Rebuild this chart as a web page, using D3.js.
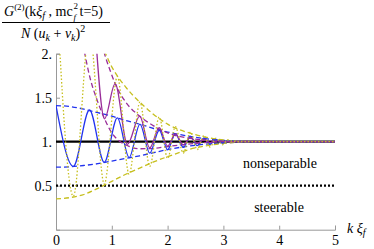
<!DOCTYPE html>
<html>
<head>
<meta charset="utf-8">
<script src="https://cdn.jsdelivr.net/npm/d3@7"></script>
<style>
  body { margin: 0; background: #fff; }
  svg text { font-family: "Liberation Serif", "Times New Roman", serif !important; }
</style>
</head>
<body>
<svg id="chart" width="374" height="249"></svg>
<script>
// tick values
var xTicks = [0, 1, 2, 3, 4, 5];
var yTicks = [0.5, 1, 1.5, 2];
var yTickLabels = ["0.5", "1.", "1.5", "2."];

// reference levels
var nonsepLevel = 1;
var steerLevel = 0.5;

// blue (solid) extrema and envelopes
var blueK = [0, 0.31, 0.60, 0.865, 1.10, 1.31, 1.505, 1.68, 1.85, 2.0, 2.14, 2.28, 2.41, 2.53, 2.65, 2.76, 2.87, 2.98, 3.08, 3.2, 5];
var blueV = [1.41, 0.72, 1.36, 0.765, 1.27, 0.82, 1.20, 0.87, 1.13, 0.91, 1.09, 0.935, 1.06, 0.955, 1.04, 0.97, 1.025, 0.985, 1.01, 1.0, 1.0];
var envK = [0, 0.25, 0.5, 0.75, 1, 1.25, 1.5, 1.75, 2, 2.5, 3, 3.5, 5];
var blueUp = [1.41, 1.40, 1.37, 1.33, 1.29, 1.24, 1.20, 1.15, 1.11, 1.05, 1.015, 1.0, 1.0];
var blueLo = [0.71, 0.715, 0.73, 0.75, 0.78, 0.81, 0.84, 0.875, 0.91, 0.96, 0.985, 1.0, 1.0];

// yellow (dotted) extrema and envelopes
var yelK = [0, 0.31, 0.60, 0.865, 1.10, 1.31, 1.505, 1.68, 1.85, 2.0, 2.14, 2.28, 2.41, 2.53, 2.65, 2.76, 2.87, 2.98, 3.08, 3.2, 5];
var yelV = [2.83, 0.38, 2.25, 0.52, 1.74, 0.63, 1.45, 0.72, 1.28, 0.81, 1.17, 0.87, 1.11, 0.91, 1.07, 0.94, 1.04, 0.965, 1.02, 1.0, 1.0];
var yelUp = [2.83, 2.75, 2.49, 2.2, 1.85, 1.62, 1.45, 1.31, 1.2, 1.08, 1.02, 1.0, 1.0];
var yelLo = [0.35, 0.365, 0.40, 0.47, 0.55, 0.63, 0.70, 0.77, 0.83, 0.93, 0.98, 1.0, 1.0];

// purple (solid) extrema and envelopes
var purK = [0.70, 0.87, 1.06, 1.28, 1.50, 1.68, 1.85, 2.0, 2.14, 2.28, 2.41, 2.53, 2.65, 2.76, 2.9, 3.0, 5];
var purV = [2.3, 1.26, 1.66, 0.97, 1.29, 0.93, 1.16, 0.95, 1.09, 0.965, 1.05, 0.98, 1.025, 0.99, 1.01, 1.0, 1.0];
var purUpK = [0.80, 0.85, 0.97, 1.06, 1.25, 1.5, 1.75, 2, 2.5, 3, 5];
var purUp = [2.2, 2.05, 1.81, 1.66, 1.45, 1.29, 1.18, 1.1, 1.03, 1.005, 1.0];
var purLoK = [0.45, 0.5, 0.6, 0.75, 0.87, 1.0, 1.15, 1.3, 1.5, 1.75, 2, 2.5, 3, 5];
var purLo = [2.2, 2.05, 1.75, 1.45, 1.26, 1.1, 1.0, 0.95, 0.92, 0.925, 0.945, 0.98, 1.0, 1.0];

var blue = "#2233ee", purple = "#992d99", yellow = "#c6bf1e";
var serif = "Liberation Serif";

var svg = d3.select("#chart");

var x = d3.scaleLinear().domain([0, 5]).range([56, 335]);
var y = d3.scaleLinear().domain([0, 2]).range([229.7, 53.7]);

svg.append("clipPath").attr("id", "clip")
  .append("rect")
  .attr("x", x(0)).attr("y", y(2))
  .attr("width", x(5) - x(0)).attr("height", y(0) - y(2));

// axes, mathematica like (ticks inward)
var xMinor = d3.range(0, 5.01, 0.2);
var yMinor = d3.range(0, 2.01, 0.1);

var gx = svg.append("g").attr("transform", "translate(0," + y(0) + ")");
gx.call(d3.axisBottom(x).tickValues(xMinor).tickSize(-2).tickFormat(""));
gx.call(d3.axisBottom(x).tickValues(xTicks).tickSize(-4).tickPadding(5).tickFormat(d3.format("d")));
gx.attr("font-family", serif);
gx.select(".domain").attr("stroke", "#999");
gx.selectAll(".tick line").attr("stroke", "#999");
gx.selectAll("text").attr("font-size", 14).attr("fill", "#000");

var gy = svg.append("g").attr("transform", "translate(" + x(0) + ",0)");
gy.call(d3.axisLeft(y).tickValues(yMinor).tickSize(-2).tickFormat(""));
gy.call(d3.axisLeft(y).tickValues(yTicks).tickSize(-4).tickPadding(4)
  .tickFormat(function(d, i) { return yTickLabels[i]; }));
gy.attr("font-family", serif);
gy.select(".domain").attr("stroke", "#999");
gy.selectAll(".tick line").attr("stroke", "#999");
gy.selectAll("text").attr("font-size", 14).attr("fill", "#000");

var plot = svg.append("g").attr("clip-path", "url(#clip)");

var line = d3.line()
  .x(function(d) { return x(d[0]); })
  .y(function(d) { return y(d[1]); })
  .curve(d3.curveMonotoneX);

function pairs(ks, vs) { return ks.map(function(k, i) { return [k, vs[i]]; }); }

// reference lines
plot.append("path").datum([[0, nonsepLevel], [5, nonsepLevel]])
  .attr("d", line).attr("fill", "none").attr("stroke", "#000").attr("stroke-width", 2.2);
plot.append("path").datum([[0, steerLevel], [5, steerLevel]])
  .attr("d", line).attr("fill", "none").attr("stroke", "#000").attr("stroke-width", 2.2)
  .attr("stroke-dasharray", "2,2");

// envelopes
function dashed(ks, vs, col) {
  plot.append("path").datum(pairs(ks, vs))
    .attr("d", line).attr("fill", "none").attr("stroke", col)
    .attr("stroke-width", 1.3).attr("stroke-dasharray", "5,3");
}
dashed(envK, blueUp, blue);
dashed(envK, blueLo, blue);
dashed(purUpK, purUp, purple);
dashed(purLoK, purLo, purple);
dashed(envK, yelUp, yellow);
dashed(envK, yelLo, yellow);

// oscillating curves
plot.append("path").datum(pairs(blueK, blueV))
  .attr("d", line).attr("fill", "none").attr("stroke", blue).attr("stroke-width", 1.3);
plot.append("path").datum(pairs(purK, purV))
  .attr("d", line).attr("fill", "none").attr("stroke", purple).attr("stroke-width", 1.3);
plot.append("path").datum(pairs(yelK, yelV))
  .attr("d", line).attr("fill", "none").attr("stroke", yellow).attr("stroke-width", 1.3)
  .attr("stroke-dasharray", "1.5,2");

// region labels
svg.append("text").attr("x", 280).attr("y", 168).attr("text-anchor", "middle")
  .attr("font-size", 14).text("nonseparable");
svg.append("text").attr("x", 279).attr("y", 212).attr("text-anchor", "middle")
  .attr("font-size", 14).text("steerable");

// axis label k xi_f
var xl = svg.append("text").attr("x", 347).attr("y", 233).attr("font-size", 14);
xl.append("tspan").attr("font-style", "italic").text("k ξ");
xl.append("tspan").attr("font-style", "italic").attr("font-size", 10).attr("dy", 3).text("f");

// y label as fraction: numerator
var num = svg.append("text").attr("x", 4).attr("y", 16).attr("font-size", 14);
num.append("tspan").attr("font-style", "italic").text("G");
num.append("tspan").attr("font-size", 9).attr("dy", -6).text("(2)");
num.append("tspan").attr("dy", 6).text("(k");
num.append("tspan").attr("font-style", "italic").text("ξ");
num.append("tspan").attr("font-style", "italic").attr("font-size", 10).attr("dy", 3).text("f");
num.append("tspan").attr("dy", -3).text(" , mc");
// stacked sup 2 / sub f after mc
svg.append("text").attr("x", 73.5).attr("y", 9).attr("font-size", 9).text("2");
svg.append("text").attr("x", 73.5).attr("y", 20).attr("font-size", 9)
  .attr("font-style", "italic").text("f");
svg.append("text").attr("x", 79.5).attr("y", 16).attr("font-size", 14).text("t=5)");

svg.append("line").attr("x1", 2).attr("x2", 110).attr("y1", 22.5).attr("y2", 22.5)
  .attr("stroke", "#000").attr("stroke-width", 1);

// denominator
var den = svg.append("text").attr("x", 21).attr("y", 38).attr("font-size", 14);
den.append("tspan").attr("font-style", "italic").text("N");
den.append("tspan").text(" (");
den.append("tspan").attr("font-style", "italic").text("u");
den.append("tspan").attr("font-style", "italic").attr("font-size", 10).attr("dy", 3).text("k");
den.append("tspan").attr("dy", -3).text(" + ");
den.append("tspan").attr("font-style", "italic").text("v");
den.append("tspan").attr("font-style", "italic").attr("font-size", 10).attr("dy", 3).text("k");
den.append("tspan").attr("dy", -3).text(")");
den.append("tspan").attr("font-size", 10).attr("dy", -6).text("2");
</script>
</body>
</html>
